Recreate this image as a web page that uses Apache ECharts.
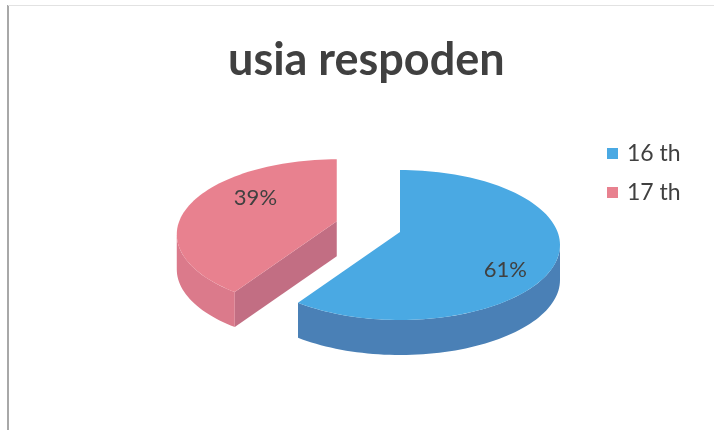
<!DOCTYPE html>
<html><head><meta charset="utf-8">
<script src="https://cdn.jsdelivr.net/npm/echarts@6/dist/echarts.min.js"></script>
<style>html,body{margin:0;padding:0;background:#fff}#c{width:714px;height:430px}</style>
</head><body><div id="c"></div>
<script>
// ---- data ----
const categories = ['16 th', '17 th'];
const values = [61, 39];
const titleText = 'usia respoden';

// ---- styling ----
const topColors = ['#4aa9e3', '#e8818f'];
const wallColors = ['#4a80b6', '#db7a8b'];
const cutColors = ['#41729f', '#c26e83'];
const explode = [0, 0.42];
const CX = 400, CY = 245, RX = 160, RY = 75, DEPTH = 35, APEX_DY = -13;
const LABEL_DX = 12, LABEL_DY = 7;
const total = values.reduce((a, b) => a + b, 0);

function rim(cx, cy, deg) {
  const r = deg * Math.PI / 180;
  return [cx + RX * Math.sin(r), cy - RY * Math.cos(r)];
}
function arc(cx, cy, a0, a1, dy) {
  const pts = [];
  const n = Math.max(2, Math.ceil(Math.abs(a1 - a0) / 2));
  for (let i = 0; i <= n; i++) {
    const p = rim(cx, cy, a0 + (a1 - a0) * i / n);
    pts.push([p[0], p[1] + (dy || 0)]);
  }
  return pts;
}

function renderItem(params, api) {
  const idx = params.seriesIndex;
  const v = api.value(0);
  let start = 0;
  for (let i = 0; i < idx; i++) start += values[i] / total * 360;
  const end = start + v / total * 360;
  const mid = (start + end) / 2;
  const m = mid * Math.PI / 180;
  const e = explode[idx];
  const cx = CX + e * RX * Math.sin(m), cy = CY - e * RY * Math.cos(m);
  const apex = [cx, cy + APEX_DY];
  const children = [];
  [[start, start - 90], [end, end + 90]].forEach(([a, n]) => {
    if (Math.cos(n * Math.PI / 180) < -1e-6) {
      const p = rim(cx, cy, a);
      children.push({ type: 'polygon', shape: { points: [apex, p, [p[0], p[1] + DEPTH], [apex[0], apex[1] + DEPTH]] }, style: { fill: cutColors[idx] } });
    }
  });
  const w0 = Math.max(start, 90), w1 = Math.min(end, 270);
  if (w1 > w0) {
    const topArc = arc(cx, cy, w0, w1, 0);
    const botArc = arc(cx, cy, w0, w1, DEPTH).reverse();
    children.push({ type: 'polygon', shape: { points: topArc.concat(botArc) }, style: { fill: wallColors[idx] } });
  }
  children.push({ type: 'polygon', shape: { points: [apex].concat(arc(cx, cy, start, end, 0)) }, style: { fill: topColors[idx] } });
  const lx = apex[0] + 0.62 * RX * Math.sin(m) + LABEL_DX;
  const ly = apex[1] - 1.2 * RY * Math.cos(m) + LABEL_DY;
  children.push({ type: 'text', style: { text: Math.round(v / total * 100) + '%', x: lx, y: ly, align: 'center', verticalAlign: 'middle', fill: '#404040', font: '22px Lato' } });
  return { type: 'group', children };
}

const chart = echarts.init(document.getElementById('c'));
chart.setOption({
  animation: false,
  backgroundColor: '#fff',
  title: { text: titleText, left: 223, top: 33, textStyle: { fontFamily: 'Lato', fontWeight: 'bold', fontSize: 45, color: '#404040' } },
  legend: {
    data: categories, orient: 'vertical', left: 602, top: 137, icon: 'rect', itemWidth: 11, itemHeight: 11, itemGap: 16,
    textStyle: { fontFamily: 'Lato', fontSize: 23, color: '#404040', padding: [0, 0, 0, 4] }
  },
  graphic: [
    { type: 'line', shape: { x1: 8, y1: 5, x2: 8, y2: 430 }, style: { stroke: '#a8a8a8', lineWidth: 2 } },
    { type: 'line', shape: { x1: 8, y1: 5.5, x2: 714, y2: 5.5 }, style: { stroke: '#e2e2e2', lineWidth: 1 } }
  ],
  series: categories.map((c, i) => ({
    type: 'custom', name: c, coordinateSystem: 'none', renderItem,
    itemStyle: { color: topColors[i] },
    data: [{ name: c, value: [values[i]] }]
  }))
});
</script></body></html>
